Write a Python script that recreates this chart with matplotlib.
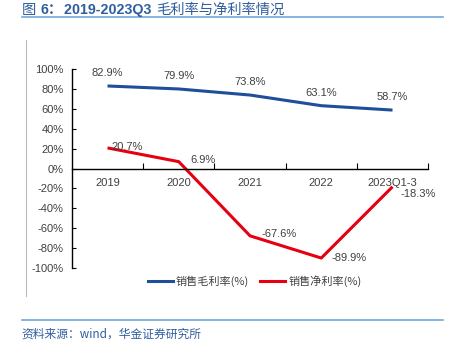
import matplotlib.pyplot as plt
from matplotlib.lines import Line2D

plt.rcParams['font.family'] = ['Liberation Sans', 'Noto Sans CJK SC', 'DejaVu Sans']

categories = ["2019", "2020", "2021", "2022", "2023Q1-3"]
gross_margin = [82.9, 79.9, 73.8, 63.1, 58.7]
net_margin = [20.7, 6.9, -67.6, -89.9, -18.3]
y_ticks = [100, 80, 60, 40, 20, 0, -20, -40, -60, -80, -100]

blue = "#1F4E9A"
red = "#E60012"
gray = "#404040"
title_color = "#2F5F9E"

fig = plt.figure(figsize=(4.55, 3.5), dpi=100)
ax = fig.add_axes([0.158, 0.234, 0.783, 0.569])

x = list(range(len(categories)))
ax.plot(x, gross_margin, color=blue, lw=2.2, solid_capstyle="butt")
ax.plot(x, net_margin, color=red, lw=2.2, solid_capstyle="butt")

for i, v in enumerate(gross_margin):
    ax.annotate(f"{v:.1f}%", (i, v), xytext=(0, 13), textcoords="offset pixels",
                ha="center", va="center", fontsize=8, color=gray)

net_offsets = [(20, 1), (24, 2), (29, 2), (28, 0), (26, -7)]
for i, v in enumerate(net_margin):
    dx, dy = net_offsets[i]
    ax.annotate(f"{v:.1f}%", (i, v), xytext=(dx, dy), textcoords="offset pixels",
                ha="center", va="center", fontsize=8, color=gray)

ax.set_xlim(-0.5, len(categories) - 0.5)
ax.set_ylim(-100, 100)
ax.set_yticks(y_ticks)
ax.set_yticklabels([f"{t}%" for t in y_ticks], fontsize=8, color=gray)
ax.tick_params(axis="y", direction="in", length=3, width=0.8, pad=6)

ax.set_xticks([i + 0.5 for i in range(len(categories))])
ax.set_xticklabels([])
ax.tick_params(axis="x", direction="in", length=4, width=0.8)
for i, c in enumerate(categories):
    ax.annotate(c, (i, 0), xytext=(0, -14), textcoords="offset pixels",
                ha="center", va="center", fontsize=8, color=gray)

ax.spines["top"].set_visible(False)
ax.spines["right"].set_visible(False)
ax.spines["bottom"].set_position(("data", 0))
ax.spines["left"].set_linewidth(1.0)
ax.spines["bottom"].set_linewidth(1.0)

handles = [Line2D([], [], color=blue, lw=2.2), Line2D([], [], color=red, lw=2.2)]
fig.legend(handles, ["销售毛利率(%)", "销售净利率(%)"], loc="center",
           bbox_to_anchor=(0.56, 0.197), ncol=2, frameon=False,
           prop={"family": ["Noto Sans CJK SC", "DejaVu Sans"], "size": 8},
           handlelength=2.2, handletextpad=0.3, columnspacing=1.0,
           labelcolor=gray)

# title pieces placed one after another
renderer = fig.canvas.get_renderer()
title_parts = [
    ("图 ", ["Noto Sans CJK SC"], "normal"),
    ("6：", ["Liberation Sans", "Noto Sans CJK SC"], "bold"),
    ("2019-2023Q3 ", ["Liberation Sans"], "bold"),
    ("毛利率与净利率情况", ["Noto Sans CJK SC"], "normal"),
]
xpos = 22
for s, fam, wt in title_parts:
    t = fig.text(xpos / 455, 0.971, s, ha="left", va="center", fontsize=10.3,
                 color=title_color, family=fam, fontweight=wt)
    xpos = t.get_window_extent(renderer).x1 + 1

fig.add_artist(Line2D([0.048, 0.974], [0.951, 0.951], color="#6FA8DC", lw=1.2))
fig.add_artist(Line2D([0.057, 0.057], [0.154, 0.886], color="#BBBBBB", lw=0.8))
fig.add_artist(Line2D([0.048, 0.974], [0.086, 0.086], color="#6FA8DC", lw=1.2))
fig.text(0.048, 0.046, "资料来源：wind，华金证券研究所", ha="left", va="center",
         fontsize=8.5, color=title_color, style="italic",
         family=["Noto Sans CJK SC", "DejaVu Sans"])

fig.savefig("out.png", dpi=100)
